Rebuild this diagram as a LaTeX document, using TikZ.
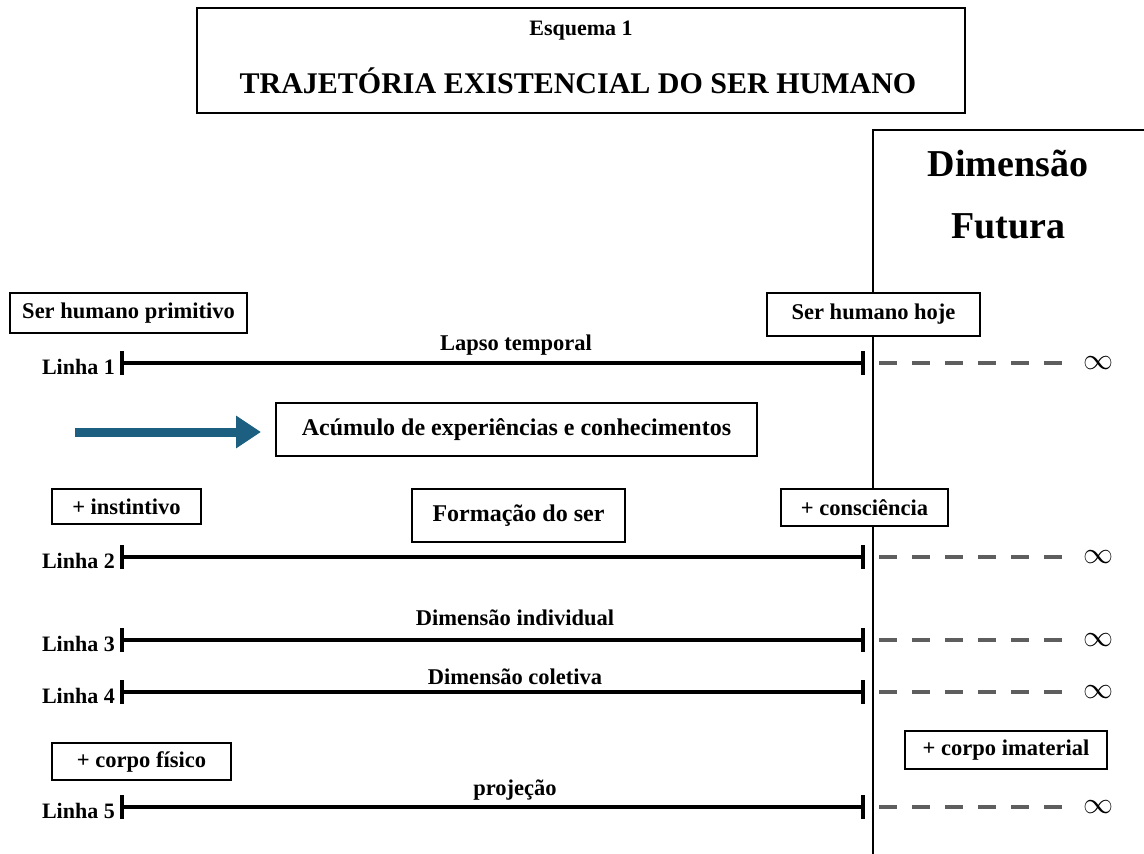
\documentclass[tikz,border=0pt]{standalone}
\usepackage{fontspec}
\setmainfont{Liberation Serif}
\usetikzlibrary{arrows.meta}
\definecolor{arrowblue}{HTML}{1D5F80}
\definecolor{dashgray}{HTML}{5E5E5E}
\tikzset{
  box/.style={draw=black, line width=1.4pt, fill=white, inner sep=0pt},
  lbl/.style={font=\fontsize{22.5}{24}\selectfont\bfseries, inner sep=0pt},
  linelbl/.style={font=\fontsize{22}{24}\selectfont\bfseries, inner sep=0pt, anchor=east},
  tline/.style={line width=4pt, {Bar[width=24pt,line width=4pt]}-{Bar[width=24pt,line width=4pt]}},
  dline/.style={line width=4.5pt, dashgray, dash pattern=on 18pt off 15pt},
  inf/.style={inner sep=0pt}
}
\begin{document}
\begin{tikzpicture}[x=1pt,y=-1pt]
\useasboundingbox (0,0) rectangle (1144,854);
% future dimension frame
\coordinate (vb) at (873,854);
\coordinate (vt) at (873,130);
\coordinate (tr) at (1144,130);
\draw[line width=2.5pt] (vb) -- (vt) -- (tr);
\node[font=\fontsize{38}{40}\selectfont\bfseries, inner sep=0pt] (dim) at (1008,163) {Dimensão};
\node[font=\fontsize{38}{40}\selectfont\bfseries, inner sep=0pt] (fut) at (1008,226) {Futura};
% title
\node[box, minimum width=768pt, minimum height=105pt] (tbox) at (581,60.5) {};
\node[font=\fontsize{22}{24}\selectfont\bfseries, inner sep=0pt] (esq) at (581,31) {Esquema 1};
\node[font=\fontsize{30}{32}\selectfont\bfseries, inner sep=0pt] (tit) at (578,81) {TRAJETÓRIA EXISTENCIAL DO SER HUMANO};
% boxes
\node[box, lbl, minimum width=237pt, minimum height=40pt] (shp) at (128.5,313) {Ser humano primitivo};
\node[box, lbl, minimum width=213pt, minimum height=43pt] (shh) at (873.5,314.5) {Ser humano hoje};
\node[box, font=\fontsize{24}{26}\selectfont\bfseries, inner sep=0pt, minimum width=481pt, minimum height=53pt] (acum) at (516.5,429.5) {Acúmulo de experiências e conhecimentos};
\node[box, lbl, minimum width=149pt, minimum height=35pt] (inst) at (126.5,506.5) {+ instintivo};
\node[box, font=\fontsize{24}{26}\selectfont\bfseries, inner sep=0pt, minimum width=213pt, minimum height=53pt] (form) at (518.5,515.5) {Formação do ser};
\node[box, lbl, minimum width=167pt, minimum height=37pt] (cons) at (864.5,507.5) {+ consciência};
\node[box, lbl, minimum width=179pt, minimum height=37pt] (fis) at (141.5,761.5) {+ corpo físico};
\node[box, lbl, minimum width=202pt, minimum height=38pt] (imat) at (1006,750) {+ corpo imaterial};
% blue arrow
\coordinate (a0) at (75,432);
\coordinate (a1) at (261,432);
\draw[arrowblue, line width=9pt, -{Triangle[length=25pt,width=31pt]}] (a0) -- (a1);
% lines
\foreach \n/\y in {1/363, 2/557, 3/640, 4/692, 5/807}{
  \coordinate (l\n a) at (120,\y);
  \coordinate (l\n b) at (865,\y);
  \coordinate (d\n a) at (879,\y);
  \coordinate (d\n b) at (1064,\y);
  \node[linelbl] (lab\n) at (115,\y+4) {Linha \n};
  \draw[tline] (l\n a) -- (l\n b);
  \draw[dline] (d\n a) -- (d\n b);
  \node[inf] (inf\n) at (1098,\y) {\scalebox{3}{$\infty$}};
}
\node[lbl] (t1) at (516,345) {Lapso temporal};
\node[lbl] (t3) at (515,618) {Dimensão individual};
\node[lbl] (t4) at (515,677) {Dimensão coletiva};
\node[lbl] (t5) at (515,790) {projeção};
\end{tikzpicture}
\end{document}
